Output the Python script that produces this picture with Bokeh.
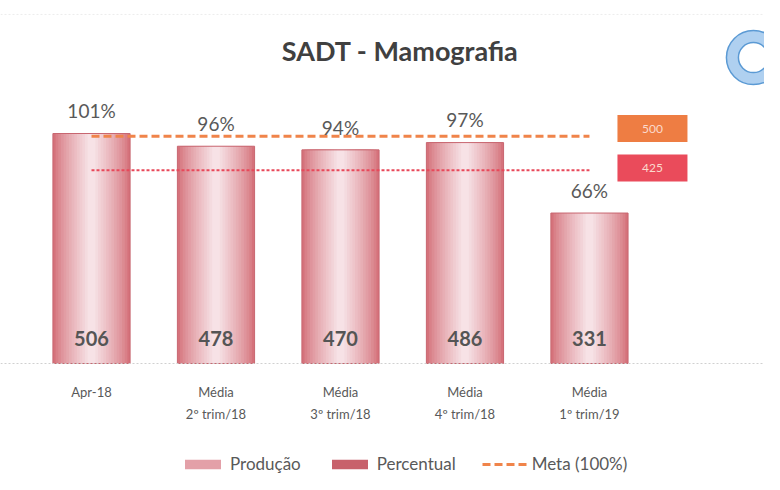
from bokeh.plotting import figure
from bokeh.models import ColumnDataSource, Legend, LegendItem, Span
from bokeh.core.properties import value
from bokeh.embed import file_html
from bokeh.resources import INLINE

# ---- data ----
categories = ["Apr-18", "Média\n2º trim/18", "Média\n3º trim/18", "Média\n4º trim/18", "Média\n1º trim/19"]
producao = [506, 478, 470, 486, 331]
percentual = [101, 96, 94, 97, 66]
meta = 500
limite = 425
title_text = "SADT - Mamografia"

FONT = "Lato"
TXT = "#595959"

idx = list(range(len(categories)))
src = ColumnDataSource(dict(
    x=idx,
    prod=producao,
    prod_lbl=[str(v) for v in producao],
    pct_y=[v + 50 for v in producao],
    pct_lbl=[f"{v}%" for v in percentual],
    cat=categories,
))

p = figure(width=764, height=474, output_backend="svg", toolbar_location=None,
           x_range=(-0.731, 5.406), y_range=(-244.2, 798.6),
           min_border=0, min_border_left=0, min_border_right=0,
           min_border_top=0, min_border_bottom=0)
p.axis.visible = False
p.grid.visible = False
p.outline_line_color = None
p.background_fill_color = "white"

# faint scan rules
p.add_layout(Span(location=0, dimension="width", line_color="#d0d0d0",
                  line_dash="2 2", line_width=1))
p.add_layout(Span(location=768, dimension="width", line_color="#ececec",
                  line_dash="2 2", line_width=1))

# gradient bars (nested strips: darker edges, light centre)
bw = 0.62
n_steps = 14
edge = (0xd5, 0x72, 0x7b)
centre = (0xf7, 0xe2, 0xe6)
for i in range(n_steps):
    t = i / (n_steps - 1)
    t2 = t ** 0.8
    col = "#%02x%02x%02x" % tuple(int(e + (c - e) * t2) for e, c in zip(edge, centre))
    f = 1.0 - 0.9 * t
    p.vbar(x="x", top="prod", width=bw * f, bottom=0, source=src,
           fill_color=col, line_color=None)
p.vbar(x="x", top="prod", width=bw, bottom=0, source=src,
       fill_color=None, line_color="#c86670", line_width=1)

# legend-only renderers (zero-height bars)
leg_prod = p.vbar(x=[0], top=[0], bottom=[0], width=bw, fill_color="#e3a0a8", line_color=None)
leg_pct = p.vbar(x=[0], top=[0], bottom=[0], width=bw, fill_color="#c8616b", line_color=None)

# target lines
meta_line = p.line(x=[idx[0], idx[-1]], y=[meta, meta], line_color="#f0844a",
                   line_width=3, line_dash="8 4")
p.line(x=[idx[0], idx[-1]], y=[limite, limite], line_color="#e8485a",
       line_width=2, line_dash="3 2")

# value boxes at right
box_x = idx[-1] + 0.506
p.rect(x=[box_x, box_x], y=[meta + 17, limite + 5], width=70, height=27,
       width_units="screen", height_units="screen",
       fill_color=["#ee7d43", "#ea4b5b"], line_color=None)
p.text(x=[box_x, box_x], y=[meta + 17, limite + 5], text=[str(meta), str(limite)],
       text_align="center", text_baseline="middle", text_color="#fbd9cc",
       text_font=value(FONT), text_font_size="12px")

# labels
p.text(x="x", y="pct_y", text="pct_lbl", source=src, text_align="center",
       text_baseline="middle", text_color=TXT, text_font=value(FONT),
       text_font_size="19px")
p.text(x="x", y=55, text="prod_lbl", source=src, text_align="center",
       text_baseline="middle", text_color="#555555", text_font=value(FONT),
       text_font_size="20px", text_font_style="bold")

# category labels
p.text(x="x", y=-46, text="cat", source=src, text_align="center",
       text_baseline="top", text_color=TXT, text_font=value(FONT),
       text_font_size="13px", text_line_height=1.35)

# title
p.text(x=[2.48], y=[689], text=[title_text], text_align="center",
       text_baseline="middle", text_color="#404040", text_font=value(FONT),
       text_font_size="27px", text_font_style="bold")

# stamp
p.annulus(x=[5.317], y=[673], inner_radius=15, outer_radius=27,
          inner_radius_units="screen", outer_radius_units="screen",
          fill_color="#a6cbee", fill_alpha=0.9, line_color="#5b9ad4", line_width=1.5)

legend = Legend(items=[
    LegendItem(label="Produção", renderers=[leg_prod]),
    LegendItem(label="Percentual", renderers=[leg_pct]),
    LegendItem(label="Meta (100%)", renderers=[meta_line]),
], orientation="horizontal", location=(180, 0), glyph_width=45, glyph_height=12,
    label_text_font=FONT, label_text_font_size="17px", label_text_color=TXT,
    background_fill_alpha=0, border_line_color=None, spacing=26, padding=0, margin=0,
    label_standoff=5)
p.add_layout(legend)

open("out.html", "w").write(file_html(p, INLINE))
